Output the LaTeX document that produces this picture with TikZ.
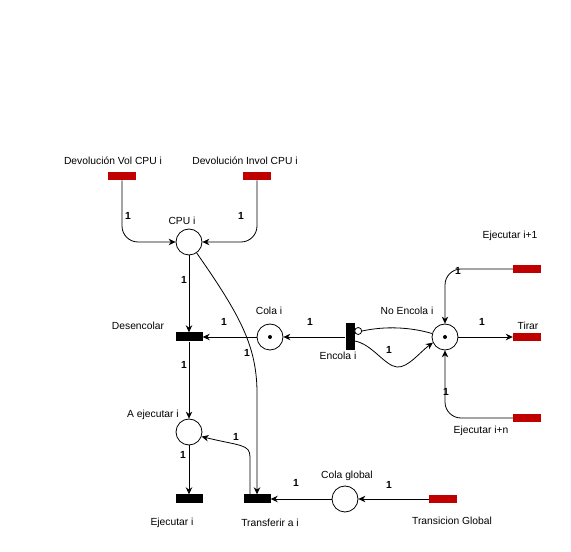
\documentclass[tikz,border=0pt]{standalone}
\usepackage{fontspec}
\setmainfont{Liberation Sans}
\usetikzlibrary{arrows.meta,calc}
\definecolor{tred}{RGB}{192,0,0}
\begin{document}
\begin{tikzpicture}[x=1pt,y=1pt,
  every node/.style={font=\fontsize{10.3}{12}\selectfont, inner sep=0pt},
  place/.style={draw, circle, minimum size=26pt, line width=0.8pt},
  redtr/.style={fill=tred, minimum width=28pt, minimum height=8.5pt},
  blktr/.style={fill=black, minimum width=27pt, minimum height=9pt},
  wt/.style={font=\fontsize{10.3}{12}\selectfont\bfseries},
  arc/.style={line width=0.8pt, -{Stealth[length=7pt,width=6.5pt]}},
  tok/.style={fill=black, circle, minimum size=4pt},
  inhib/.style={draw, circle, fill=white, minimum size=7pt, line width=0.8pt}
]
\useasboundingbox (0,0) rectangle (571,552);
% places and transitions
\node[redtr] (vol) at (122,376) {};
\node[redtr] (invol) at (257,376) {};
\node[place] (cpu) at (189,310) {};
\node[blktr] (desenc) at (189,215) {};
\node[place] (cola) at (270,215) {};
\node[tok] (colatok) at (cola) {};
\node[blktr, minimum width=9pt, minimum height=27pt] (encola) at (350,215) {};
\node[place] (noenc) at (445,215) {};
\node[tok] (noenctok) at (noenc) {};
\node[redtr] (tirar) at (527,215) {};
\node[redtr] (ei1) at (527,283) {};
\node[redtr] (ein) at (527,134) {};
\node[place] (aexe) at (189,120) {};
\node[blktr] (ejec) at (189,53) {};
\node[blktr] (transf) at (257,53) {};
\node[place] (colag) at (345,53) {};
\node[redtr] (tglob) at (443,53) {};
% labels
\node (lvol) at (113,391) {Devolución Vol CPU i};
\node (linvol) at (245,391) {Devolución Invol CPU i};
\node (lcpu) at (182,331) {CPU i};
\node (ldesenc) at (138,226) {Desencolar};
\node (lcola) at (269,241) {Cola i};
\node (lencola) at (338,196) {Encola i};
\node (lnoenc) at (407,241) {No Encola i};
\node (ltirar) at (528,226) {Tirar};
\node (lei1) at (510,316) {Ejecutar i+1};
\node (lein) at (481,121) {Ejecutar i+n};
\node (laexe) at (153,137) {A ejecutar i};
\node (lejec) at (172,29) {Ejecutar i};
\node (ltransf) at (270,29) {Transferir a i};
\node (lcolag) at (347,76) {Cola global};
\node (ltglob) at (452,31) {Transicion Global};
% arcs
\draw[arc, rounded corners=16pt] (vol.south) |- (cpu.west);
\draw[arc, rounded corners=16pt] (invol.south) |- (cpu.east);
\draw[arc] (cpu.south) -- (desenc.north);
\draw[arc] (cola.west) -- (desenc.east);
\draw[arc] (encola.west) -- (cola.east);
\draw[arc] (desenc.south) -- (aexe.north);
\draw[arc] (aexe.south) -- (ejec.north);
\draw[arc] (cpu.-55) .. controls (240,237) and (256,207) .. (257,162) -- (transf.north);
\draw[arc] ($(transf.north)+(-7,0)$) -- (250,95) .. controls (250,108) and (240,106) .. (aexe.-20);
\draw[arc] (colag.west) -- (transf.east);
\draw[arc] (tglob.west) -- (colag.east);
\draw[arc] (noenc.east) -- (tirar.west);
\draw[arc, rounded corners=16pt] (ei1.west) -| (noenc.north);
\draw[arc, rounded corners=16pt] (ein.west) -| (noenc.south);
\node[inhib] (inh) at ($(encola.east)+(3.5,6)$) {};
\draw[line width=0.8pt] (inh.east) .. controls (385,226) and (410,225) .. (noenc.165);
\draw[arc] ($(encola.east)+(0,-4)$) .. controls (372,208) and (385,186) .. (397,185) .. controls (408,184) and (420,200) .. (noenc.205);
% weights
\node[wt] (w1) at (128,336) {1};
\node[wt] (w2) at (241,336) {1};
\node[wt] (w3) at (184,272) {1};
\node[wt] (w4) at (224,230) {1};
\node[wt] (w5) at (310,230) {1};
\node[wt] (w6) at (247,199) {1};
\node[wt] (w7) at (184,187) {1};
\node[wt] (w8) at (458,281) {1};
\node[wt] (w9) at (482,230) {1};
\node[wt] (w10) at (389,202) {1};
\node[wt] (w11) at (446,160) {1};
\node[wt] (w12) at (236,115) {1};
\node[wt] (w13) at (183,97) {1};
\node[wt] (w14) at (296,69) {1};
\node[wt] (w15) at (389,67) {1};
\end{tikzpicture}
\end{document}
